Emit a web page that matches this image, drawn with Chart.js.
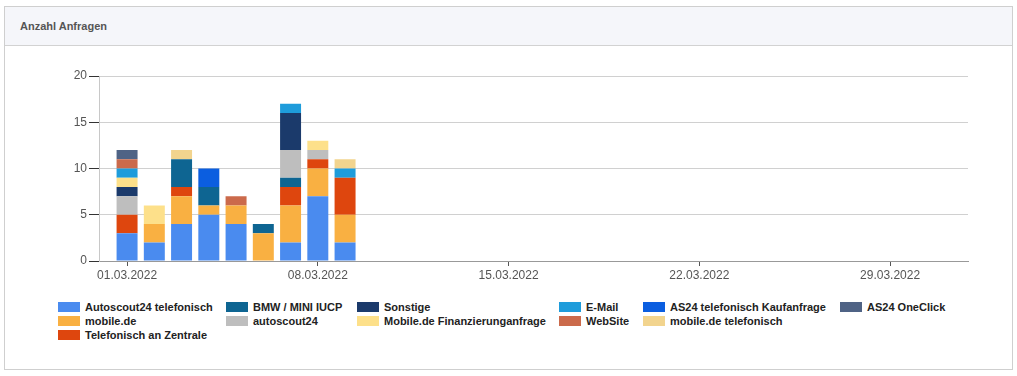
<!DOCTYPE html>
<html>
<head>
<meta charset="utf-8">
<script src="https://cdn.jsdelivr.net/npm/chart.js@4/dist/chart.umd.min.js"></script>
<style>
  body { margin: 0; background: #fff; font-family: "Liberation Sans", Arial, sans-serif; }
  #panel { position: absolute; left: 4px; top: 6px; width: 1007px; height: 362px; border: 1px solid #cfcfcf; }
  #head { height: 38px; background: #f5f6fa; border-bottom: 1px solid #d2d2d2; }
  #title { position: absolute; left: 15px; top: 13px; font-size: 11px; font-weight: bold; color: #555; }
  #wrap { position: absolute; left: 0; top: 60px; width: 1017px; height: 230px; }
  #legend { position: absolute; left: 58px; top: 300px; display: grid;
            grid-template-columns: 168px 131px 202px 84px 197px auto; grid-auto-rows: 14px; }
  .item { display: flex; align-items: center; font-size: 11px; font-weight: bold; color: #222; white-space: nowrap; }
  .sw { width: 22px; height: 10px; margin-right: 5px; }
</style>
</head>
<body>
<div id="panel"><div id="head"></div><div id="title">Anzahl Anfragen</div></div>
<div id="wrap"><canvas id="chart" width="1017" height="230"></canvas></div>
<div id="legend"></div>
<script>
// Tage im März 2022
const days = [1, 2, 3, 4, 5, 6, 7, 8, 9];
const tickDays = [1, 8, 15, 22, 29];
const tickLabels = ["01.03.2022", "08.03.2022", "15.03.2022", "22.03.2022", "29.03.2022"];

const seriesNames = [
  "Autoscout24 telefonisch", "mobile.de", "Telefonisch an Zentrale",
  "BMW / MINI IUCP", "autoscout24", "Sonstige", "Mobile.de Finanzierunganfrage",
  "E-Mail", "WebSite", "AS24 telefonisch Kaufanfrage", "mobile.de telefonisch", "AS24 OneClick"
];
const as24Tel     = [3, 2, 4, 5, 4, 0, 2, 7, 2];
const mobileDe    = [0, 2, 3, 1, 2, 3, 4, 3, 3];
const zentrale    = [2, 0, 1, 0, 0, 0, 2, 1, 4];
const bmwMini     = [0, 0, 3, 2, 0, 1, 1, 0, 0];
const autoscout24 = [2, 0, 0, 0, 0, 0, 3, 1, 0];
const sonstige    = [1, 0, 0, 0, 0, 0, 4, 0, 0];
const mobileFin   = [1, 2, 0, 0, 0, 0, 0, 1, 0];
const eMail       = [1, 0, 0, 0, 0, 0, 1, 0, 1];
const webSite     = [1, 0, 0, 0, 1, 0, 0, 0, 0];
const as24Kauf    = [0, 0, 0, 2, 0, 0, 0, 0, 0];
const mobileTel   = [0, 0, 1, 0, 0, 0, 0, 0, 1];
const as24OneClick= [1, 0, 0, 0, 0, 0, 0, 0, 0];

const seriesValues = [as24Tel, mobileDe, zentrale, bmwMini, autoscout24, sonstige,
  mobileFin, eMail, webSite, as24Kauf, mobileTel, as24OneClick];
const colors = ["#4a8bef", "#f9b042", "#de460e", "#0e6592", "#bebebe", "#1b3a6b",
  "#fde08a", "#1e9cdb", "#cb6a4b", "#0b5ee0", "#f2d48e", "#4f6385"];

// Legende spaltenweise wie im Original
const legendSlots = [[1,1],[2,1],[3,1],[1,2],[2,2],[1,3],[2,3],[1,4],[2,4],[1,5],[2,5],[1,6]];

const datasets = seriesNames.map((name, i) => ({
  label: name,
  data: seriesValues[i],
  backgroundColor: colors[i],
  borderWidth: 0,
  categoryPercentage: 1,
  barPercentage: 0.77
}));

new Chart(document.getElementById("chart"), {
  type: "bar",
  data: { labels: days, datasets: datasets },
  options: {
    responsive: false,
    animation: false,
    layout: { padding: { top: 16, right: 49, left: 0, bottom: 0 } },
    plugins: { legend: { display: false }, tooltip: { enabled: false } },
    scales: {
      x: {
        type: "linear",
        stacked: true,
        offset: false,
        min: -0.03,
        max: 31.86,
        afterBuildTicks: (s) => { s.ticks = tickDays.map(v => ({ value: v })); },
        afterFit: (s) => { s.height = 29; },
        ticks: {
          autoSkip: false, maxRotation: 0, padding: 2,
          color: "#555", font: { family: "Liberation Sans", size: 12 },
          callback: (v) => tickLabels[tickDays.indexOf(v)]
        },
        grid: { offset: false, drawOnChartArea: false, tickLength: 5, tickColor: "#555" },
        border: { color: "#999" }
      },
      y: {
        stacked: true,
        min: 0,
        max: 20,
        afterFit: (s) => { s.width = 99; },
        ticks: { stepSize: 5, padding: 2, color: "#555", font: { family: "Liberation Sans", size: 12 } },
        grid: { color: "#d0d0d0", tickLength: 10, tickColor: "#333" },
        border: { color: "#c8c8c8" }
      }
    }
  }
});

const legend = document.getElementById("legend");
seriesNames.forEach((name, i) => {
  const el = document.createElement("div");
  el.className = "item";
  el.style.gridRow = legendSlots[i][0];
  el.style.gridColumn = legendSlots[i][1];
  el.innerHTML = '<span class="sw" style="background:' + colors[i] + '"></span>' + name;
  legend.appendChild(el);
});
</script>
</body>
</html>
